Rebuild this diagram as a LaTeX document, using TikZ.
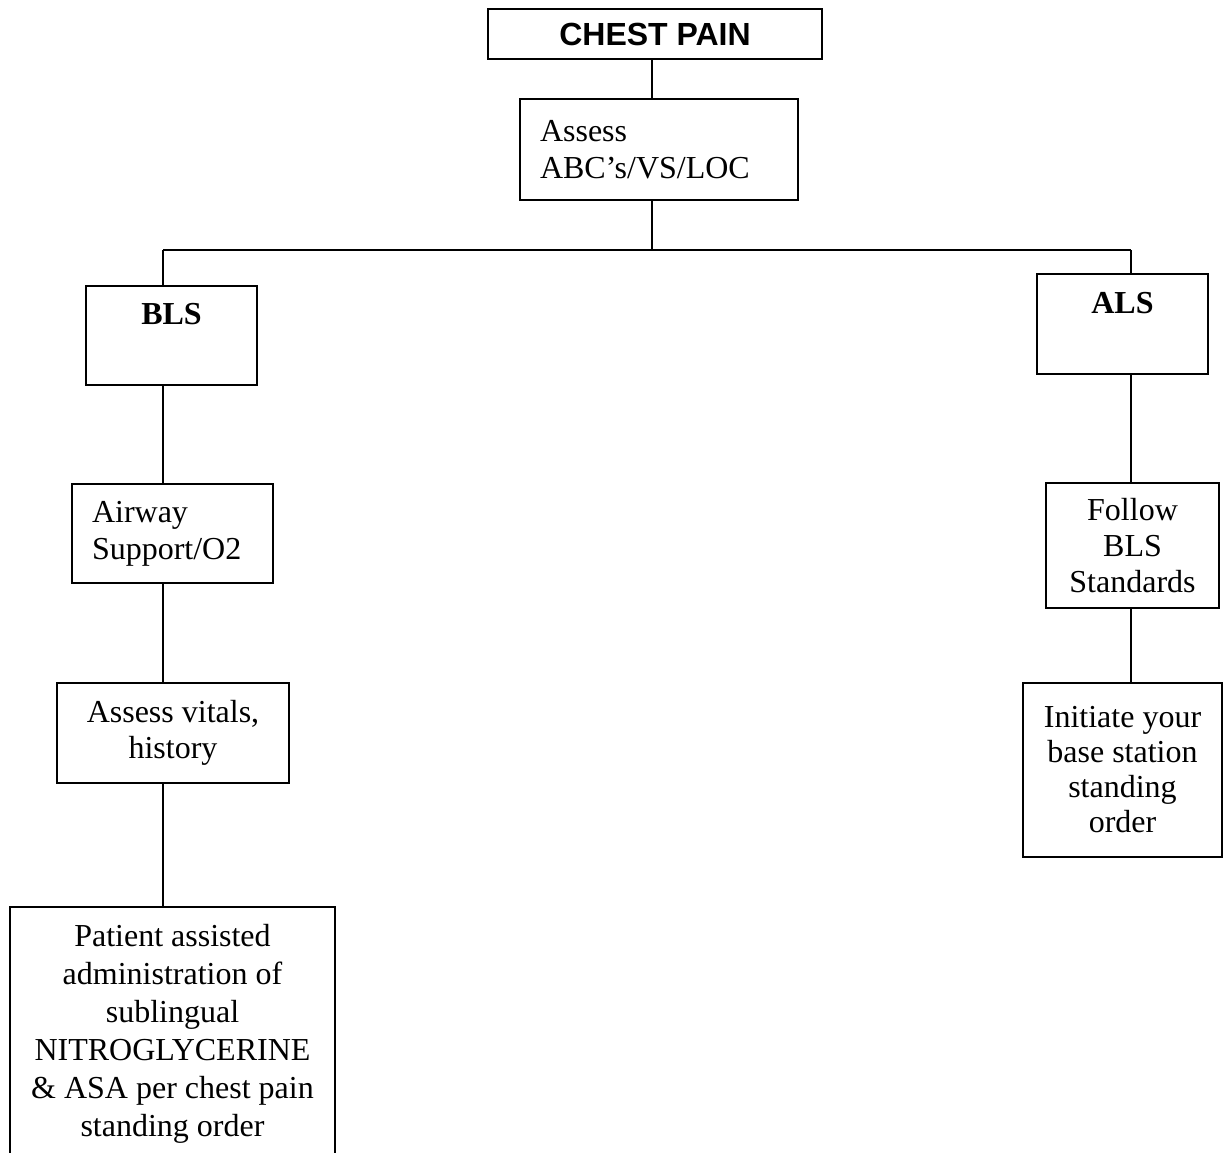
\documentclass[tikz,border=0pt]{standalone}
\usepackage{fontspec}
\setmainfont{Liberation Serif}
\newfontfamily\headfont{Liberation Sans}
\begin{document}
\begin{tikzpicture}[x=1pt,y=-1pt,line width=1.3pt,
    box/.style={draw,align=center,inner sep=0pt,font=\fontsize{32}{36}\selectfont},
    leftbox/.style={draw,align=left,inner xsep=20pt,inner ysep=0pt,font=\fontsize{32}{37}\selectfont}]
    \useasboundingbox (0,0) rectangle (1223,1152);

    \node[box,minimum width=334pt,minimum height=50pt,font=\headfont\bfseries\fontsize{32}{36}\selectfont] (chest) at (655,34) {CHEST PAIN};
    \node[leftbox,text width=238pt,minimum height=101pt] (assess) at (659,149.5) {Assess\\ABC's/VS/LOC};

    \node[box,minimum width=171pt,minimum height=99pt] (bls) at (171.5,335.5) {\strut\textbf{BLS}\\\strut};
    \node[box,minimum width=171pt,minimum height=100pt] (als) at (1122.5,324) {\strut\textbf{ALS}\\\strut};

    \node[leftbox,text width=161pt,minimum height=99pt] (airway) at (172.5,533.5) {Airway\\Support/O2};
    \node[box,minimum width=232pt,minimum height=100pt] (vitals) at (173,733) {Assess vitals,\\history};
    \node[box,minimum width=325pt,minimum height=253pt,font=\fontsize{32}{38}\selectfont] (nitro) at (172.5,1033.5)
        {Patient assisted\\administration of\\sublingual\\NITROGLYCERINE\\\& ASA per chest pain\\standing order};

    \node[box,minimum width=173pt,minimum height=125pt] (follow) at (1132.5,545.5) {Follow\\BLS\\Standards};
    \node[box,minimum width=199pt,minimum height=174pt,font=\fontsize{32}{35}\selectfont] (initiate) at (1122.5,770)
        {Initiate your\\base station\\standing\\order};

    % branch points
    \coordinate (fork) at (652,250);
    \coordinate (lfork) at (163,250);
    \coordinate (rfork) at (1131,250);

    \draw (chest.south -| fork) -- (assess.north -| fork);
    \draw (assess.south -| fork) -- (fork);
    \draw (lfork) -- (rfork);

    \draw (lfork) -- (bls.north -| lfork);
    \draw (bls.south -| lfork) -- (airway.north -| lfork);
    \draw (airway.south -| lfork) -- (vitals.north -| lfork);
    \draw (vitals.south -| lfork) -- (nitro.north -| lfork);

    \draw (rfork) -- (als.north -| rfork);
    \draw (als.south -| rfork) -- (follow.north -| rfork);
    \draw (follow.south -| rfork) -- (initiate.north -| rfork);
\end{tikzpicture}
\end{document}
